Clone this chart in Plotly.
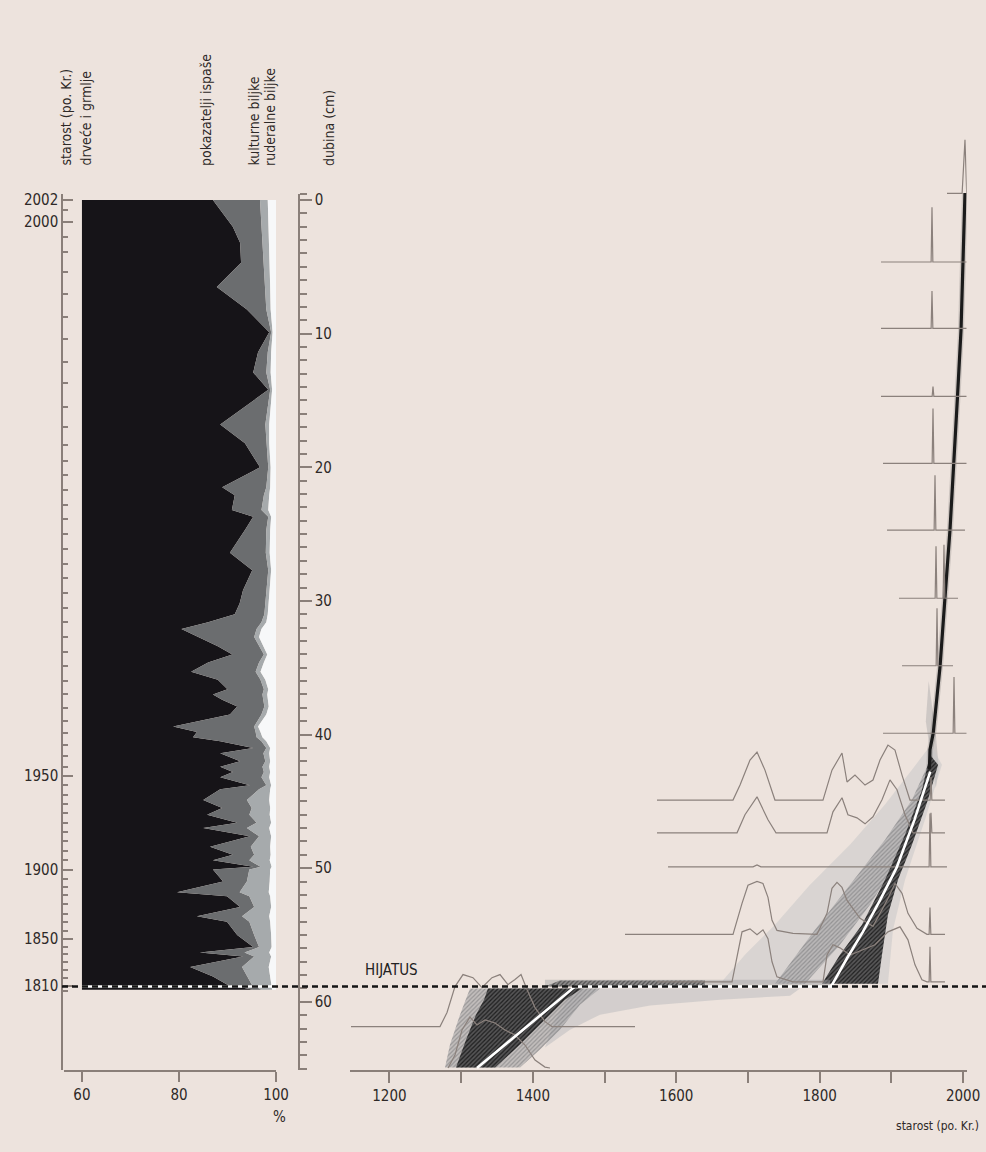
import numpy as np
import plotly.graph_objects as go

W, H = 986, 1152
BG = "#ede3dd"
AX = "#8a7f79"
TXT = "#2e2927"
FONT = "Liberation Sans Narrow, DejaVu Sans Condensed, Roboto Condensed, Liberation Sans, sans-serif"


def px(x):
    return x / W


def py(y):
    return 1 - y / H


# ---------------- pollen diagram (percent, by depth in cm) ----------------
POLLEN_DEPTH = [0.0, 2.0, 3.2, 4.7, 6.5, 8.2, 9.9, 11.4, 12.9, 14.2, 16.8, 18.2, 20.0, 21.5, 22.1,
                23.2, 23.7, 24.7, 26.4, 27.7, 29.2, 30.2, 31.0, 31.6, 32.1, 32.7, 33.4, 34.0, 34.6,
                35.3, 35.9, 36.6, 37.0, 37.4, 37.9, 38.5, 39.4, 39.8, 40.2, 40.5, 41.0, 41.4, 42.0,
                42.4, 42.8, 43.2, 43.8, 44.1, 44.9, 45.5, 46.0, 46.6, 47.0, 47.6, 48.4, 49.0, 49.4,
                49.9, 50.1, 51.0, 51.8, 52.1, 52.9, 53.6, 54.0, 55.0, 55.9, 56.3, 56.6, 57.4, 58.1,
                58.7, 59.1]
TREES = [87.0, 91.1, 92.6, 92.8, 87.8, 94.0, 98.6, 96.3, 95.3, 98.4, 88.5, 93.6, 96.7, 88.9, 91.5,
         90.9, 95.3, 93.6, 90.5, 95.1, 93.2, 92.5, 91.5, 86.0, 80.5, 84.0, 88.0, 91.0, 86.0,
         82.5, 88.0, 90.0, 87.0, 88.9, 92.0, 90.5, 78.8, 83.7, 82.9, 88.5, 95.3, 88.5, 92.6,
         88.5, 91.1, 88.5, 94.6, 88.5, 85.0, 88.9, 85.8, 92.0, 85.0, 94.6, 86.4, 91.1, 87.0,
         95.3, 87.0, 89.1, 79.6, 89.9, 92.6, 83.7, 89.9, 92.0, 95.3, 84.3, 93.2, 82.3, 87.0,
         89.9, 95.3]
GRAZING = [9.7, 5.9, 4.7, 4.7, 10.0, 4.0, 0.4, 2.0, 2.7, 0.4, 9.3, 4.4, 1.7, 9.1, 6.0,
           6.1, 3.1, 4.4, 7.4, 3.3, 4.8, 5.3, 6.1, 11.0, 15.5, 11.5, 8.5, 6.5, 10.5,
           13.3, 8.8, 7.5, 10.2, 8.5, 5.6, 6.5, 16.7, 12.1, 13.1, 8.5, 2.7, 8.9, 5.2,
           8.7, 6.4, 8.5, 3.4, 8.0, 9.0, 6.1, 8.7, 4.0, 9.0, 1.9, 8.4, 4.4, 7.5,
           1.5, 7.5, 4.9, 12.9, 4.6, 2.9, 9.3, 4.6, 3.5, 1.2, 9.2, 2.3, 10.7, 7.0,
           5.1, 1.7]
CULTIVATED = [1.6, 1.5, 1.3, 1.2, 1.0, 0.9, 0.3, 0.7, 0.9, 0.4, 0.8, 0.6, 0.5, 0.8, 1.1,
              1.4, 0.6, 0.8, 0.8, 0.6, 0.7, 0.7, 0.7, 1.0, 1.0, 1.0, 1.0, 0.7, 1.0,
              1.0, 1.0, 0.9, 1.0, 0.9, 0.9, 1.0, 0.8, 1.0, 1.2, 1.0, 0.8, 1.2, 1.0,
              1.4, 1.3, 1.6, 1.0, 2.3, 4.6, 3.8, 4.2, 3.0, 4.6, 2.5, 4.0, 3.4, 4.2,
              2.3, 4.3, 4.7, 6.0, 4.3, 3.5, 5.6, 4.3, 3.5, 2.6, 5.1, 3.5, 5.5, 4.8,
              4.0, 2.2]
POLLEN_START = 60

# ---------------- axes ticks ----------------
AGE_LABELS = ["2002", "2000", "1950", "1900", "1850", "1810"]
AGE_LABEL_DEPTH = [0.0, 1.65, 43.1, 50.1, 55.3, 58.8]
AGE_MINOR_DEPTH = [-0.45, 0.75, 2.8, 3.9, 5.4, 7.0, 8.75, 10.4, 12.1, 13.7, 15.5, 17.0, 18.3, 19.5,
                   20.6, 21.7, 22.8, 23.9, 25.0, 26.1, 27.2, 28.3, 29.4, 30.5, 31.6, 32.7, 33.8,
                   34.9, 36.0, 37.0, 38.0, 39.0, 39.9, 40.8, 41.6, 42.4, 43.8, 44.5, 45.2, 45.9,
                   46.6, 47.3, 48.0, 48.7, 49.4, 50.8, 51.4, 52.0, 52.7, 53.4, 54.0, 54.7, 55.9,
                   56.4, 57.0, 57.6, 58.2, 59.2]
DEPTH_LABELS = [0, 10, 20, 30, 40, 50, 60]
DEPTH_MINOR = [-0.45] + [d for d in range(1, 66) if d % 10 != 0]
YEAR_TICKS = [1200, 1300, 1400, 1500, 1600, 1700, 1800, 1900, 2000]
YEAR_LABELS = ["1200", "", "1400", "", "1600", "", "1800", "", "2000"]
HIATUS_DEPTH = 58.85

# ---------------- age-depth model ----------------
MODEL_UPPER_YEAR = [2002.6, 2000.3, 1997.1, 1991.9, 1987.3, 1981.7, 1974.7, 1967.8, 1958.4, 1953.8, 1953.0]
MODEL_UPPER_DEPTH = [-0.52, 4.49, 9.72, 14.96, 19.67, 24.68, 29.77, 34.93, 39.87, 41.14, 42.6]
MODEL_LOWER_YEAR = [1954.2, 1932.0, 1907.1, 1884.0, 1860.0, 1838.5, 1817.6, 1817.6, 1458.8, 1322.1]
MODEL_LOWER_DEPTH = [42.77, 46.4, 49.98, 52.4, 54.78, 56.7, 58.69, 58.85, 58.85, 64.95]

# ---------------- probability distributions (baseline depth, years, heights in cm) ----------------
DIST_BASE = [-0.5, 4.64, 9.6, 14.7, 19.7, 24.7, 29.8, 34.85, 39.9, 44.9, 47.35, 49.9, 54.95, 58.5, 61.85, 64.95]
DIST_YEAR = [
    [1977.5, 1998.6, 2002.6, 2005.0],
    [1885.5, 1955.4, 1956.6, 1957.8, 2005.0],
    [1885.5, 1955.4, 1956.6, 1957.8, 2005.0],
    [1885.5, 1956.8, 1958.0, 1959.2, 2005.0],
    [1888.3, 1956.8, 1958.0, 1959.2, 2005.0],
    [1893.9, 1959.6, 1960.8, 1962.0, 2002.6],
    [1910.6, 1961.0, 1962.2, 1963.4, 1972.1, 1973.3, 1974.5, 1992.9],
    [1914.8, 1962.4, 1963.6, 1964.8, 1985.9],
    [1888.3, 1986.1, 1987.3, 1988.5, 2005.0],
    [1573.1, 1679.1, 1688.9, 1702.8, 1712.6, 1723.7, 1737.6, 1804.6, 1817.1, 1831.1, 1838.1, 1849.2,
     1863.2, 1874.3, 1884.1, 1895.2, 1905.0, 1914.8, 1925.9, 1954.0, 1955.2, 1956.4, 1974.7],
    [1573.1, 1684.7, 1695.8, 1712.6, 1727.9, 1739.1, 1810.2, 1818.5, 1831.1, 1839.4, 1852.0, 1863.2,
     1874.3, 1886.9, 1898.0, 1907.8, 1919.0, 1930.1, 1954.0, 1955.2, 1956.4, 1974.7],
    [1588.5, 1707.0, 1712.6, 1718.0, 1952.6, 1953.8, 1955.0, 1977.5],
    [1528.5, 1679.1, 1691.7, 1700.0, 1712.6, 1720.9, 1727.9, 1733.5, 1740.4, 1762.8, 1796.2, 1810.2,
     1817.1, 1824.1, 1831.1, 1838.1, 1856.2, 1874.3, 1893.9, 1905.0, 1914.8, 1923.1, 1935.7, 1949.6,
     1952.6, 1953.8, 1955.0, 1974.7],
    [1573.1, 1677.7, 1691.7, 1702.8, 1712.6, 1720.9, 1727.9, 1733.5, 1740.4, 1762.8, 1804.6, 1810.2,
     1818.5, 1828.3, 1842.2, 1859.0, 1877.1, 1895.2, 1912.0, 1923.1, 1932.9, 1942.6, 1949.6, 1952.6,
     1953.8, 1955.0, 1974.7],
    [1146.4, 1270.5, 1280.3, 1291.4, 1302.6, 1316.5, 1329.1, 1343.0, 1354.2, 1365.3, 1375.1, 1383.5,
     1391.8, 1403.0, 1416.9, 1426.7, 1542.4],
    [1281.7, 1291.4, 1301.2, 1312.3, 1322.1, 1333.3, 1347.2, 1361.1, 1375.1, 1389.0, 1403.0, 1416.9, 1423.9],
]
DIST_HEIGHT = [
    [0, 0, 4.0, 0],
    [0, 0, 4.1, 0, 0],
    [0, 0, 2.8, 0, 0],
    [0, 0, 0.75, 0, 0],
    [0, 0, 4.1, 0, 0],
    [0, 0, 4.1, 0, 0],
    [0, 0, 3.9, 0, 0, 4.0, 0, 0],
    [0, 0, 4.3, 0, 0],
    [0, 0, 4.2, 0, 0],
    [0, 0, 1.12, 2.99, 3.59, 2.24, 0, 0, 2.24, 3.52, 1.35, 1.87, 1.12, 1.50, 2.99, 4.11, 3.74, 1.87, 0,
     0, 1.72, 0, 0],
    [0, 0, 1.35, 2.69, 0.97, 0, 0, 1.57, 2.62, 1.35, 1.12, 0.67, 1.20, 2.47, 3.96, 3.22, 1.35, 0,
     0, 1.5, 0, 0],
    [0, 0, 0.15, 0, 0, 4.0, 0, 0],
    [0, 0, 2.32, 3.67, 3.96, 3.81, 2.77, 1.05, 0.3, 0.07, 0, 1.57, 3.44, 3.89, 3.51, 2.54, 1.2, 0.6,
     2.54, 3.81, 3.07, 1.57, 0.45, 0, 0, 2.0, 0, 0],
    [0, 0, 3.74, 3.96, 3.52, 3.89, 3.22, 1.5, 0.37, 0, 0, 2.0, 2.77, 2.54, 2.0, 2.4, 2.77, 3.74, 4.11,
     3.14, 1.27, 0.15, 0, 0, 2.62, 0, 0],
    [0, 0, 1.05, 2.99, 3.89, 3.66, 2.92, 3.66, 3.89, 3.14, 3.52, 3.89, 2.77, 1.42, 0.37, 0, 0],
    [0, 0.97, 2.84, 3.81, 3.22, 3.59, 3.37, 2.84, 2.47, 1.72, 0.6, 0.07, 0],
]

# ---------------- density envelopes of the age-depth model (year, depth) ----------------
DENSITY = [
    # name, years, depths, fill colour, hatch colour (or None)
    ("upper_halo",
     [1952.0, 1962.0, 1966.0, 1962.0, 1956.0, 1948.0],
     [36.0, 40.0, 42.5, 44.0, 42.0, 39.0],
     "rgba(150,150,152,0.35)", None),
    ("upper_light",
     [1955.2, 1970.5, 1946.8, 1919.0, 1902.2, 1895.2, 1661.0, 1695.8, 1737.7, 1786.5, 1842.2, 1891.1, 1928.7],
     [40.76, 42.26, 46.37, 50.86, 54.60, 58.64, 58.64, 56.47, 54.23, 51.23, 48.24, 45.24, 42.63],
     "rgba(200,200,201,0.55)", None),
    ("upper_mid",
     [1951.0, 1928.7, 1891.1, 1842.2, 1793.4, 1737.7, 1779.5, 1828.3, 1870.1, 1905.0, 1932.9, 1956.6],
     [42.26, 44.88, 47.87, 51.23, 54.60, 58.64, 58.64, 55.72, 52.73, 49.74, 46.37, 43.01],
     "rgba(160,160,162,0.55)", "rgba(115,115,117,0.55)"),
    ("upper_dark",
     [1953.8, 1965.0, 1951.0, 1928.7, 1909.2, 1895.2, 1886.9, 1881.3, 1803.2, 1828.3, 1859.0, 1891.1, 1919.0, 1942.6],
     [41.51, 42.26, 44.88, 48.24, 50.86, 53.48, 56.47, 58.64, 58.64, 56.47, 54.23, 50.86, 47.49, 44.13],
     "rgba(70,70,72,0.88)", "rgba(25,25,25,0.9)"),
    ("hiatus_light",
     [1416.9, 1814.4, 1814.4, 1416.9],
     [58.35, 58.35, 58.85, 58.85],
     "rgba(160,160,162,0.45)", None),
    ("hiatus_dark",
     [1437.8, 1640.0, 1640.0, 1416.9],
     [58.4, 58.4, 58.85, 58.85],
     "rgba(90,90,92,0.55)", "rgba(40,40,40,0.6)"),
    ("lower_light",
     [1458.8, 1772.5, 1758.6, 1661.0, 1563.4, 1493.6, 1451.8, 1416.9, 1430.9],
     [59.01, 59.01, 59.54, 59.84, 60.28, 60.96, 62.08, 63.42, 61.33],
     "rgba(190,190,192,0.55)", None),
    ("lower_mid",
     [1312.3, 1493.6, 1465.7, 1437.8, 1410.0, 1382.1, 1277.5, 1284.5, 1298.4],
     [59.01, 59.01, 60.21, 62.08, 63.57, 64.92, 64.92, 63.20, 60.96],
     "rgba(160,160,162,0.55)", "rgba(115,115,117,0.55)"),
    ("lower_dark",
     [1337.4, 1468.5, 1444.8, 1416.9, 1382.1, 1347.2, 1292.8, 1306.8, 1320.7, 1331.9],
     [59.01, 59.01, 59.84, 61.33, 63.20, 64.92, 64.92, 62.83, 60.96, 59.84],
     "rgba(70,70,72,0.88)", "rgba(25,25,25,0.9)"),
]

fig = go.Figure()

# pollen stacked areas
n = len(POLLEN_DEPTH)
t = np.array(TREES)
g = t + np.array(GRAZING)
c = g + np.array(CULTIVATED)
fig.add_trace(go.Scatter(x=[POLLEN_START] * n, y=POLLEN_DEPTH, mode="lines", line=dict(width=0),
                         xaxis="x", yaxis="y", hoverinfo="skip"))
for xs, col in [(t, "#161418"), (g, "#6b6d6f"), (c, "#a6aaac"), ([100] * n, "#f7f8f9")]:
    fig.add_trace(go.Scatter(x=list(xs), y=POLLEN_DEPTH, mode="lines", line=dict(width=0),
                             fill="tonextx", fillcolor=col, xaxis="x", yaxis="y", hoverinfo="skip"))

# dummy trace so the left age axis is drawn
fig.add_trace(go.Scatter(x=[None], y=[None], xaxis="x", yaxis="y2", hoverinfo="skip"))

# density envelopes (right panel uses y3: same scale as the depth axis, extended upward)
for name, ys, ds, col, hatch in DENSITY:
    kw = {}
    if hatch:
        kw["fillpattern"] = dict(shape="/", bgcolor=col, fgcolor=hatch, size=3, solidity=0.4, fillmode="replace")
    fig.add_trace(go.Scatter(x=ys + [ys[0]], y=ds + [ds[0]], mode="lines", line=dict(width=0),
                             fill="toself", fillcolor=col, xaxis="x2", yaxis="y3", hoverinfo="skip", **kw))

# upper model line
fig.add_trace(go.Scatter(x=MODEL_UPPER_YEAR, y=MODEL_UPPER_DEPTH, mode="lines",
                         line=dict(color="rgba(60,60,60,0.18)", width=6), xaxis="x2", yaxis="y3", hoverinfo="skip"))
fig.add_trace(go.Scatter(x=MODEL_UPPER_YEAR, y=MODEL_UPPER_DEPTH, mode="lines",
                         line=dict(color="#1b1b1b", width=3.2), xaxis="x2", yaxis="y3", hoverinfo="skip"))

# probability distributions
for base, yrs, hts in zip(DIST_BASE, DIST_YEAR, DIST_HEIGHT):
    fig.add_trace(go.Scatter(x=yrs, y=[base - h for h in hts], mode="lines",
                             line=dict(color="#8b817c", width=1.2), xaxis="x2", yaxis="y3",
                             hoverinfo="skip"))

# lower (white) model line
fig.add_trace(go.Scatter(x=MODEL_LOWER_YEAR, y=MODEL_LOWER_DEPTH, mode="lines",
                         line=dict(color="#ffffff", width=2.6), xaxis="x2", yaxis="y3", hoverinfo="skip"))

# hiatus line
fig.add_shape(type="line", xref="x", yref="y", x0=POLLEN_START, x1=100, y0=HIATUS_DEPTH, y1=HIATUS_DEPTH,
              line=dict(color="#ffffff", width=2.5))
fig.add_shape(type="line", xref="paper", yref="y", x0=px(62), x1=px(990), y0=HIATUS_DEPTH, y1=HIATUS_DEPTH,
              line=dict(color="#151515", width=2.5, dash="6px,4px"))

tickfont = dict(family=FONT, size=15, color=TXT)
common = dict(showgrid=False, zeroline=False, showline=True, linecolor=AX, linewidth=1.5,
              tickcolor=AX, tickwidth=1.5, tickfont=tickfont, fixedrange=True)

Y_TOP_PX, Y_BOT_PX = 194, 1070
Y_RANGE = [65.1, -0.45]
scale = (Y_BOT_PX - Y_TOP_PX) / (Y_RANGE[0] - Y_RANGE[1])
Y3_TOP_PX = 110
Y3_RANGE = [65.1, Y_RANGE[0] - (Y_BOT_PX - Y3_TOP_PX) / scale]

fig.update_layout(
    width=W, height=H, margin=dict(l=0, r=0, t=0, b=0, autoexpand=False), autosize=False,
    paper_bgcolor=BG, plot_bgcolor="rgba(0,0,0,0)", showlegend=False,
    xaxis=dict(domain=[px(64), px(276)], range=[56.3, 100], anchor="y", ticks="outside", ticklen=10,
               tickmode="array", tickvals=[60, 80, 100], **common),
    xaxis2=dict(domain=[px(350), px(966.7)], range=[1145, 2005], anchor="y", ticks="outside", ticklen=11,
                tickmode="array", tickvals=YEAR_TICKS, ticktext=YEAR_LABELS, **common),
    yaxis=dict(domain=[py(Y_BOT_PX), py(Y_TOP_PX)], range=Y_RANGE, anchor="free", position=px(299), side="right",
               ticks="outside", ticklen=12, tickmode="array", tickvals=DEPTH_LABELS,
               minor=dict(tickmode="array", tickvals=DEPTH_MINOR, ticks="outside", ticklen=7,
                          tickcolor=AX, tickwidth=1.5), **common),
    yaxis2=dict(domain=[py(Y_BOT_PX), py(Y_TOP_PX)], range=Y_RANGE, overlaying="y", anchor="free", position=px(62),
                side="left", ticks="inside", ticklen=10, tickmode="array", tickvals=AGE_LABEL_DEPTH,
                ticktext=AGE_LABELS,
                minor=dict(tickmode="array", tickvals=AGE_MINOR_DEPTH, ticks="inside", ticklen=5,
                           tickcolor=AX, tickwidth=1.5), **common),
    yaxis3=dict(domain=[py(Y_BOT_PX), py(Y3_TOP_PX)], range=Y3_RANGE, anchor="free",
                position=px(350), visible=False, fixedrange=True, showgrid=False, zeroline=False),
)

lab = dict(family=FONT, size=14, color=TXT)
for text, x in [("starost (po. Kr.)", 65), ("drveće i grmlje", 85), ("pokazatelji ispaše", 206),
                ("kulturne biljke", 253), ("ruderalne biljke", 270), ("dubina (cm)", 329)]:
    fig.add_annotation(text=text, x=px(x), y=py(168), xref="paper", yref="paper", textangle=-90,
                       xanchor="center", yanchor="bottom", showarrow=False, font=lab)
fig.add_annotation(text="%", x=px(279), y=py(1117), xref="paper", yref="paper", showarrow=False,
                   xanchor="center", yanchor="middle", font=dict(family=FONT, size=15, color=TXT))
fig.add_annotation(text="starost (po. Kr.)", x=px(937), y=py(1126), xref="paper", yref="paper",
                   xanchor="center", yanchor="middle", showarrow=False,
                   font=dict(family=FONT, size=12, color=TXT))
fig.add_annotation(text="HIJATUS", x=px(391), y=py(970), xref="paper", yref="paper", showarrow=False,
                   xanchor="center", yanchor="middle", font=dict(family=FONT, size=15, color="#222222"))

fig.write_html(
    "out.html",
    config={"responsive": False, "displayModeBar": False},
    post_script=(
        "document.documentElement.style.overflow='hidden';document.body.style.overflow='hidden';"
        "document.body.style.margin='0px';document.body.style.padding='0px';"
        "document.body.style.background='%s';document.documentElement.style.background='%s';"
        "var gd=document.getElementById('{plot_id}');Plotly.relayout(gd,{width:%d,height:%d});" % (BG, BG, W, H)
    ),
)
